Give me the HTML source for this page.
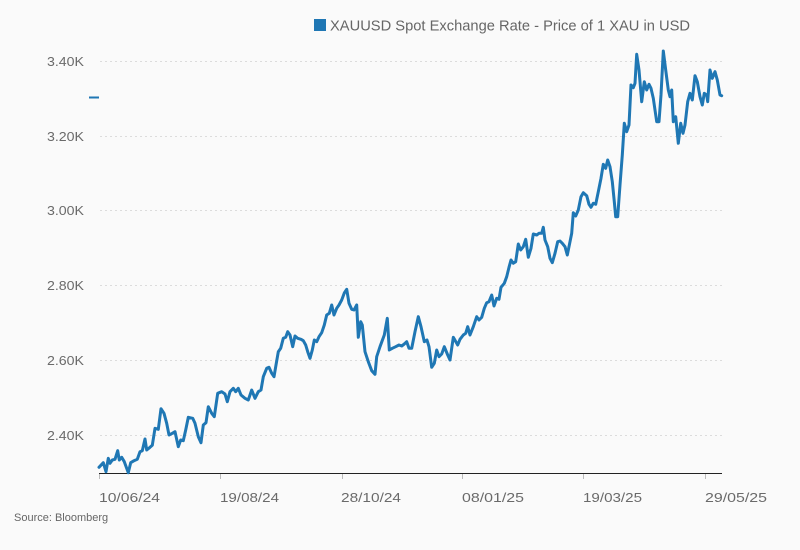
<!DOCTYPE html>
<html>
<head>
<meta charset="utf-8">
<style>
  html, body { margin: 0; padding: 0; background: #fafafa; }
  svg { display: block; font-family: "Liberation Sans", sans-serif; }
</style>
</head>
<body>
<svg width="800" height="550" viewBox="0 0 800 550" xmlns="http://www.w3.org/2000/svg">
  <rect x="0" y="0" width="800" height="550" fill="#fafafa"/>

  <!-- Legend -->
  <rect x="314" y="19" width="12" height="12" fill="#1f77b4"/>
  <text x="330" y="30.5" font-size="15" fill="#666" textLength="360" lengthAdjust="spacingAndGlyphs">XAUUSD Spot Exchange Rate - Price of 1 XAU in USD</text>

  <!-- Gridlines -->
  <g stroke="#dcdcdc" stroke-width="1" stroke-dasharray="2,3">
    <line x1="100" y1="61.5" x2="723" y2="61.5"/>
    <line x1="100" y1="136.5" x2="723" y2="136.5"/>
    <line x1="100" y1="210.5" x2="723" y2="210.5"/>
    <line x1="100" y1="285.5" x2="723" y2="285.5"/>
    <line x1="100" y1="360.5" x2="723" y2="360.5"/>
    <line x1="100" y1="435.5" x2="723" y2="435.5"/>
  </g>

  <!-- Y labels -->
  <g font-size="13" fill="#6a6a6a">
    <text x="47" y="66" textLength="37" lengthAdjust="spacingAndGlyphs">3.40K</text>
    <text x="47" y="141" textLength="37" lengthAdjust="spacingAndGlyphs">3.20K</text>
    <text x="47" y="215" textLength="37" lengthAdjust="spacingAndGlyphs">3.00K</text>
    <text x="47" y="290" textLength="37" lengthAdjust="spacingAndGlyphs">2.80K</text>
    <text x="47" y="365" textLength="37" lengthAdjust="spacingAndGlyphs">2.60K</text>
    <text x="47" y="440" textLength="37" lengthAdjust="spacingAndGlyphs">2.40K</text>
  </g>

  <!-- stray dash -->
  <line x1="89" y1="97.5" x2="99" y2="97.5" stroke="#1f77b4" stroke-width="2"/>

  <!-- Axis -->
  <line x1="99" y1="473.5" x2="722" y2="473.5" stroke="#222" stroke-width="1"/>
  <g stroke="#bbb" stroke-width="1">
    <line x1="99.5" y1="474" x2="99.5" y2="479"/>
    <line x1="220.5" y1="474" x2="220.5" y2="479"/>
    <line x1="342.5" y1="474" x2="342.5" y2="479"/>
    <line x1="462.5" y1="474" x2="462.5" y2="479"/>
    <line x1="583.5" y1="474" x2="583.5" y2="479"/>
    <line x1="705.5" y1="474" x2="705.5" y2="479"/>
  </g>

  <!-- X labels -->
  <g font-size="13" fill="#6a6a6a">
    <text x="99" y="502" textLength="61" lengthAdjust="spacingAndGlyphs">10/06/24</text>
    <text x="220" y="502" textLength="59" lengthAdjust="spacingAndGlyphs">19/08/24</text>
    <text x="341" y="502" textLength="60" lengthAdjust="spacingAndGlyphs">28/10/24</text>
    <text x="462" y="502" textLength="62" lengthAdjust="spacingAndGlyphs">08/01/25</text>
    <text x="583" y="502" textLength="59" lengthAdjust="spacingAndGlyphs">19/03/25</text>
    <text x="705" y="502" textLength="62" lengthAdjust="spacingAndGlyphs">29/05/25</text>
  </g>

  <text x="14" y="521" font-size="11" fill="#666">Source: Bloomberg</text>

  <!-- Series -->
  <polyline fill="none" stroke="#1f77b4" stroke-width="3" stroke-linejoin="round" stroke-linecap="round"
    points="99,467.3 103.3,462.7 106,471.7 108.3,458.3 110,463.3 112.3,460 115,459.3 117.7,450.7 119.3,460 121.7,457.3 124.3,461.7 127.3,470 128.3,472.7 130.7,462.7 134,460.7 137.3,459.3 140,451.7 142.3,450.7 145,439 146.7,450 150,447.3 152.3,445.3 155,428.3 158.3,429.3 161,408.7 164,413.3 166.7,423.3 169,435 172.3,433.3 175,431.7 178.3,446.7 180.7,440 183.3,440.7 185.7,430 188.3,417.3 192.7,418.3 195,423.3 198.3,436.7 201,442.7 203.3,425 206,422.7 208.3,406.7 211.7,413.3 214.3,416.7 217.7,393.3 221.7,391.7 225,394 227.3,401.7 230,391.7 233.3,388.3 235.7,391.7 238.3,388.3 241,395 245,398.3 248.3,400 251.7,390 255,398.3 258.3,391.7 261,390 263.3,376.7 266.7,368.3 269,367.3 271.7,373.3 274,376.7 276,365 278.3,351.7 280.7,348.3 283.3,338.3 285.7,337.3 287.7,331.7 290,335 292.7,346.7 295,336 297.7,338.3 301,339.3 303.3,340.7 305.7,345 307.7,351.7 310,358.3 312.3,350 314.3,340 316.7,341.7 319,336.7 321.7,332.7 324.3,325 326.7,315 329.3,313.3 331.7,305 334,315 336.7,308.3 339,305 341.7,300 344.3,293 346.7,289.3 349,303.3 351.7,309.3 354,310 356.7,305 358.3,337.3 360.7,321.7 362.3,325 365,351.7 368.3,361.7 371.7,370.7 375,374.3 376.7,356.7 380,346.7 384.3,335 387.3,318.3 389.3,350 392.3,348.3 395.7,346.7 399,345 401.7,346 404.3,344 406.7,341.7 409,348.3 411.7,348.3 415,331.7 418.3,316.7 421,326.7 424.3,341.7 427,340 429,346.7 431.7,367.3 434.3,363.3 436.7,350 439,356.7 441.7,354 444.3,346.7 447.7,355 450,360 453.3,337.3 457.7,345 460,339.3 463.3,335 465.7,333.3 467.7,326.7 470,335 473.3,326.7 476.7,316.7 479,320 481.7,317.3 484.3,308.3 486.7,302.7 489,301.7 491.7,295 494,306 496.7,298.3 499,299.3 501,287.3 504.3,283.3 506.7,276.7 509,267.3 511,260 513.3,263.3 515.7,261.7 518.3,244 520.7,250 523.3,246.7 525.7,239.3 528.3,257.3 531,248.3 533.3,234 536.7,235 539,233.3 541.7,233.3 543.3,227.3 545,240 547.7,246.7 550,258.3 552.3,262.7 555,253.3 557.7,241.7 560,241 562.3,243.3 565,246.7 567.3,255 570,241.7 571.7,233.3 573.3,212.7 575.7,216 578.3,210 581,196.7 583.3,192.7 586.7,195.7 589,204.3 591,207.3 593.3,203.3 595.7,204.3 598.3,191.7 601,178.3 603.3,164.3 605.7,168.3 607.7,160 610,166.7 612.3,181.7 614.3,201.7 615.7,216.7 617.7,216.7 620,185 622.3,155 624.3,123.3 626.7,131.7 629,125 631,85 633.3,87.7 635,83.3 636.7,54.3 639,70 641.7,101.7 644.3,81.7 646.7,90 649,84.3 651,88.3 653.3,98.3 656.7,121.7 659,121.7 661,95 663.3,51 665.7,70 668.3,90 670,96.7 671.7,90 673.3,121.7 675.7,116.7 678.3,143.3 680.7,123.3 683,133.3 685,125 687.7,101.7 690,93.3 692.3,100 695,75.7 697.3,81.7 700,96.7 702.3,105 704.3,93.3 706.7,95 707.7,101.7 710,70 712.3,78.3 715,71.7 717.3,80 720,95 721.7,95.7"/>
</svg>
</body>
</html>
